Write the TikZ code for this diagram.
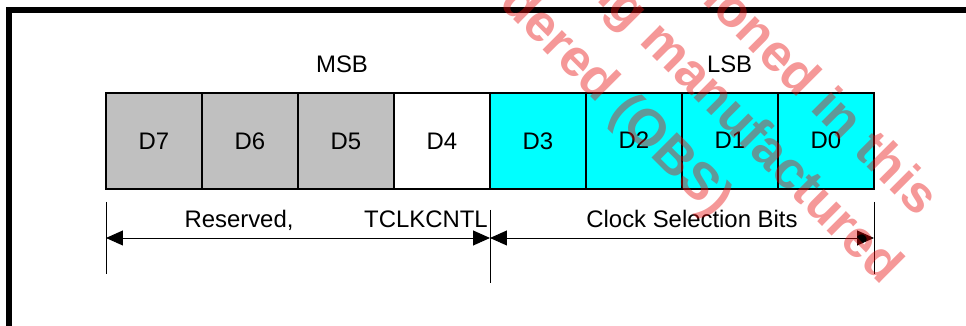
\documentclass[tikz,border=0pt]{standalone}
\usepackage{fontspec}
\setmainfont{Liberation Sans}
\usepackage{tikz}
\usetikzlibrary{arrows.meta,calc,positioning}
\definecolor{bitgrey}{RGB}{192,192,192}
\definecolor{bitcyan}{RGB}{0,255,255}
\definecolor{wmred}{RGB}{232,10,10}

\begin{document}
\begin{tikzpicture}[font=\fontsize{17}{20}\selectfont,
    bitbox/.style={draw,line width=0.85pt,minimum width=2.4cm,minimum height=2.4cm,inner sep=0pt,outer sep=0pt},
    dimtick/.style={line width=0.7pt},
    dimarrow/.style={line width=0.7pt,{Triangle[length=0.42cm,width=0.37cm]}-{Triangle[length=0.42cm,width=0.37cm]}},
    wmark/.style={text=wmred,text opacity=0.42,font=\fontsize{37}{42}\selectfont\bfseries,rotate=-45,anchor=base east,inner sep=0pt}]
    \useasboundingbox (0,0) rectangle (24.15,8.15);
    % outer frame (only top and left edge inside the picture)
    \draw[line width=0.1375cm] (0.225,0) -- (0.225,7.905) -- (24.15,7.905);
    % register bits
    \foreach \b/\col/\dy [count=\i from 0] in {7/bitgrey/-0.06,6/bitgrey/-0.1,5/bitgrey/0,4/white/0,3/bitcyan/0,2/bitcyan/0.025,1/bitcyan/0.025,0/bitcyan/0.025}
      \node[bitbox,fill=\col] (d\b) at (3.85+\i*2.4,4.625) {\raisebox{\dy cm}{D\b}};
    \node[anchor=base] (msb) at (8.55,6.33) {MSB};
    \node[anchor=base] (lsb) at (18.24,6.33) {LSB};
    % dimension lines
    \coordinate (tickL) at ($(d7.south west)+(0,-0.325)$);
    \coordinate (tickM) at ($(d4.south east)+(0,-0.525)$);
    \coordinate (tickR) at ($(d0.south east)+(0,-0.325)$);
    \coordinate (arrL) at ($(d7.south west)+(0,-1.225)$);
    \coordinate (arrM) at ($(d4.south east)+(0,-1.225)$);
    \coordinate (arrR) at ($(d0.south east)+(0,-1.225)$);
    \draw[dimtick] (tickL) -- ++(0,-1.8);
    \draw[dimtick] (tickM) -- ++(0,-1.825);
    \draw[dimtick] (tickR) -- ++(0,-1.8);
    \draw[dimarrow] (arrL) -- (arrM);
    \draw[dimarrow] (arrM) -- (arrR);
    \node[anchor=base] (resv) at (5.975,2.45) {Reserved,};
    \node[anchor=base east,inner sep=0pt] (tclk) at (12.2,2.45) {TCLKCNTL};
    \node[anchor=base] (csel) at (17.3,2.45) {Clock Selection Bits};
    % watermark
    \begin{scope}
      \clip (0,0) rectangle (24.15,8.15);
      \node[wmark] (wmA) at (22.95,2.70) {tioned in this};
      \node[wmark] (wmB) at (22.05,1.00) {ng manufactured};
      \node[wmark] (wmC) at (17.82,2.675) {dered (OBS)};
    \end{scope}
  \end{tikzpicture}
\end{document}
